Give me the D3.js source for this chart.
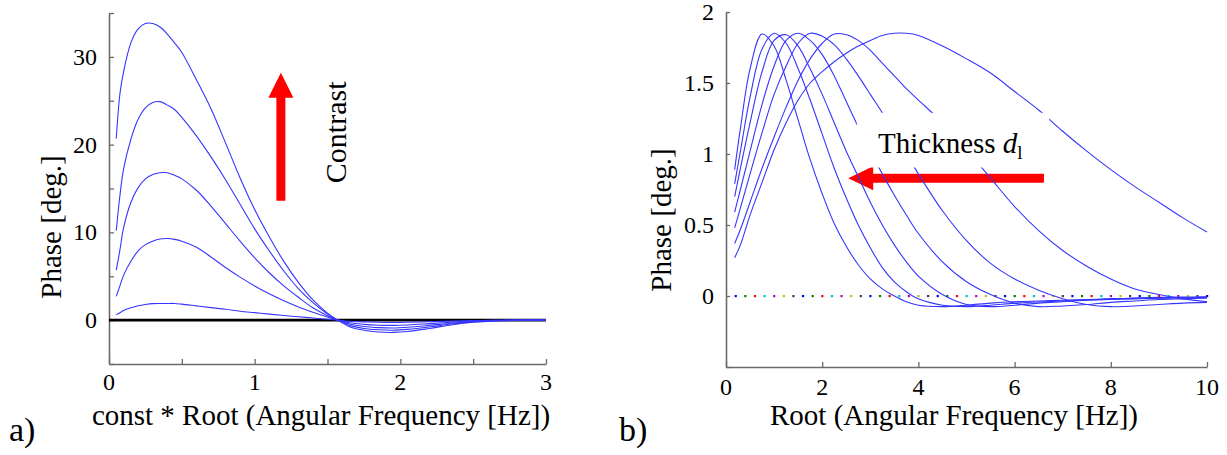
<!DOCTYPE html>
<html>
<head>
<meta charset="utf-8">
<script src="https://d3js.org/d3.v7.min.js"></script>
<style>
  body { margin: 0; background: #fff; }
  text { font-family: "Liberation Serif", "Times New Roman", serif; fill: #000; }
  .tl { font-size: 24px; }
</style>
</head>
<body>
<script>
// ---- panel a) : phase vs const*sqrt(freq), one curve per contrast ----
var contrastX = [0.05, 0.075, 0.1, 0.15, 0.2, 0.25, 0.3, 0.35, 0.4, 0.45, 0.5,
  0.6, 0.7, 0.8, 0.9, 1.0, 1.1, 1.2, 1.3, 1.4, 1.5, 1.57,
  1.65, 1.75, 1.85, 1.95, 2.05, 2.2, 2.35, 2.5, 2.65, 2.8, 3.0];
var contrast1 = [0.6, 0.85, 1.1, 1.4, 1.63, 1.78, 1.88, 1.9, 1.9, 1.9, 1.82,
  1.62, 1.42, 1.24, 1.02, 0.85, 0.68, 0.52, 0.38, 0.24, 0.1, 0,
  -0.12, -0.2, -0.25, -0.27, -0.25, -0.18, -0.1, -0.05, -0.02, 0, 0];
var contrast2 = [2.7, 3.9, 5.1, 6.7, 7.9, 8.6, 9.0, 9.25, 9.3, 9.2, 9.0,
  8.3, 7.2, 6.0, 4.9, 3.9, 3.0, 2.2, 1.5, 0.9, 0.35, 0,
  -0.3, -0.48, -0.58, -0.6, -0.55, -0.4, -0.24, -0.1, -0.03, -0.01, 0];
var contrast3 = [5.7, 8.0, 10.5, 13.4, 15.1, 16.1, 16.6, 16.8, 16.8, 16.5, 16.1,
  14.8, 13.0, 11.0, 9.0, 7.1, 5.4, 3.9, 2.6, 1.4, 0.5, 0,
  -0.45, -0.72, -0.85, -0.9, -0.82, -0.6, -0.35, -0.16, -0.05, -0.01, 0];
var contrast4 = [10.2, 14.2, 17.2, 20.6, 22.9, 24.2, 24.8, 24.9, 24.5, 24.0, 23.1,
  21.0, 18.6, 16.0, 13.2, 10.4, 7.9, 5.6, 3.6, 2.0, 0.7, 0,
  -0.6, -0.95, -1.1, -1.15, -1.05, -0.78, -0.45, -0.2, -0.06, -0.02, 0];
var contrast5 = [20.7, 25.8, 28.3, 31.6, 33.2, 33.8, 33.8, 33.4, 32.6, 31.6, 30.5,
  27.4, 24.1, 20.2, 16.2, 12.6, 9.5, 6.7, 4.3, 2.3, 0.8, 0,
  -0.75, -1.15, -1.35, -1.4, -1.3, -0.95, -0.55, -0.25, -0.08, -0.02, 0];
var contrastSeries = [contrast1, contrast2, contrast3, contrast4, contrast5];
var aXTicks = [0, 0.5, 1, 1.5, 2, 2.5, 3];
var aXLabels = [0, 1, 2, 3];
var aYTicks = [-5, 0, 5, 10, 15, 20, 25, 30, 35];
var aYLabels = [0, 10, 20, 30];

// ---- panel b) : phase vs sqrt(freq), one curve per layer thickness ----
var thickX = [0.18, 0.3, 0.5, 0.75, 1, 1.25, 1.5, 1.75, 2, 2.25, 2.5, 2.75, 3, 3.25, 3.5, 3.75, 4,
  4.5, 5, 5.5, 6, 6.5, 7, 7.5, 8, 8.5, 9, 9.5, 10];
var thickA = [0.89, 1.18, 1.6, 1.845, 1.76, 1.52, 1.24, 0.96, 0.72, 0.51, 0.35, 0.22, 0.12, 0.05, 0.0, -0.04, -0.065,
  -0.075, -0.065, -0.05, -0.04, -0.035, -0.03, -0.025, -0.02, -0.015, -0.01, -0.008, -0.005];
var thickB = [0.79, 1.02, 1.4, 1.74, 1.85, 1.78, 1.6, 1.38, 1.14, 0.9, 0.69, 0.5, 0.34, 0.2, 0.1, 0.03, -0.02,
  -0.065, -0.075, -0.065, -0.05, -0.042, -0.035, -0.028, -0.02, -0.017, -0.015, -0.012, -0.01];
var thickC = [0.70, 0.9, 1.22, 1.58, 1.8, 1.84, 1.76, 1.6, 1.42, 1.22, 1.02, 0.84, 0.66, 0.5, 0.36, 0.24, 0.14,
  0.01, -0.06, -0.075, -0.065, -0.05, -0.04, -0.03, -0.025, -0.02, -0.015, -0.012, -0.01];
var thickD = [0.59, 0.75, 1.02, 1.35, 1.62, 1.8, 1.85, 1.8, 1.7, 1.55, 1.37, 1.19, 1.02, 0.86, 0.71, 0.57, 0.44,
  0.24, 0.1, 0.01, -0.05, -0.075, -0.07, -0.06, -0.045, -0.035, -0.025, -0.02, -0.015];
var thickE = [0.48, 0.62, 0.86, 1.15, 1.42, 1.62, 1.78, 1.85, 1.83, 1.77, 1.67, 1.55, 1.42, 1.29, 1.14, 1.0, 0.86,
  0.6, 0.39, 0.23, 0.12, 0.04, -0.02, -0.06, -0.075, -0.07, -0.06, -0.05, -0.045];
var thickF = [0.37, 0.47, 0.66, 0.9, 1.12, 1.33, 1.52, 1.67, 1.78, 1.845, 1.84, 1.8, 1.73, 1.64, 1.55, 1.46, 1.38,
  1.22, 1.03, 0.83, 0.63, 0.46, 0.32, 0.21, 0.12, 0.05, 0.01, -0.02, -0.04];
var thickG = [0.27, 0.36, 0.57, 0.8, 1.03, 1.22, 1.38, 1.5, 1.58, 1.65, 1.71, 1.76, 1.8, 1.835, 1.85, 1.85, 1.835,
  1.76, 1.67, 1.57, 1.44, 1.31, 1.16, 1.02, 0.89, 0.77, 0.66, 0.55, 0.45];
var thickSeries = [thickA, thickB, thickC, thickD, thickE, thickF, thickG];
var bXTicks = [0, 2, 4, 6, 8, 10];
var bYTicks = [-0.5, 0, 0.5, 1, 1.5, 2];
var bYLabels = [0, 0.5, 1, 1.5, 2];
// the dotted zero line, matlab colour order
var zeroDotColors = ["#0000ff", "#008000", "#ff0000", "#00bfbf", "#bf00bf", "#bfbf00", "#404040"];

var W = 1227, H = 455;
var curveBlue = "#3535ff";
var axisGrey = "#6a6a6a";

var svg = d3.select("body").append("svg")
    .attr("width", W)
    .attr("height", H);
svg.append("rect").attr("width", W).attr("height", H).attr("fill", "#fff");

function styleAxis(g) {
  g.select(".domain").attr("stroke", axisGrey).attr("stroke-width", 1.6);
  g.selectAll(".tick line").attr("stroke", axisGrey).attr("stroke-width", 1.3);
  g.selectAll(".tick text").remove();
}

function arrow(g, x1, y1, x2, y2, shaft, head, headLen) {
  // filled arrow from (x1,y1) to tip (x2,y2)
  var dx = x2 - x1, dy = y2 - y1, L = Math.sqrt(dx * dx + dy * dy);
  var ux = dx / L, uy = dy / L, nx = -uy, ny = ux;
  var bx = x2 - ux * headLen, by = y2 - uy * headLen;
  var pts = [
    [x1 + nx * shaft / 2, y1 + ny * shaft / 2],
    [bx + nx * shaft / 2, by + ny * shaft / 2],
    [bx + nx * head / 2, by + ny * head / 2],
    [x2, y2],
    [bx - nx * head / 2, by - ny * head / 2],
    [bx - nx * shaft / 2, by - ny * shaft / 2],
    [x1 - nx * shaft / 2, y1 - ny * shaft / 2]
  ];
  g.append("path").attr("d", "M" + pts.join("L") + "Z").attr("fill", "#ff0000");
}

// tick labels drawn by hand so they take the serif face
function xLabels(g, x, vals, y) {
  g.selectAll(null).data(vals).enter().append("text")
      .attr("class", "tl")
      .attr("x", function (d) { return x(d); })
      .attr("y", y)
      .attr("text-anchor", "middle")
      .text(function (d) { return d; });
}
function yLabels(g, y, vals, x) {
  g.selectAll(null).data(vals).enter().append("text")
      .attr("class", "tl")
      .attr("x", x)
      .attr("y", function (d) { return y(d); })
      .attr("dy", "0.33em")
      .attr("text-anchor", "end")
      .text(function (d) { return d; });
}

/* ---------- panel a ---------- */
var xa = d3.scaleLinear().domain([0, 3]).range([109, 546]);
var ya = d3.scaleLinear().domain([-5, 35]).range([364, 13]);

var ga = svg.append("g");

ga.append("g")
    .attr("transform", "translate(0," + ya(-5) + ")")
    .call(d3.axisBottom(xa).tickValues(aXTicks).tickSize(-5).tickSizeOuter(0))
    .call(styleAxis);

ga.append("g")
    .attr("transform", "translate(" + xa(0) + ",0)")
    .call(d3.axisLeft(ya).tickValues(aYTicks).tickSize(-5).tickSizeOuter(0))
    .call(styleAxis);

xLabels(ga, xa, aXLabels, 390);
yLabels(ga, ya, aYLabels, 97);

// black zero line
ga.append("line")
    .attr("x1", xa(0)).attr("x2", xa(3))
    .attr("y1", ya(0)).attr("y2", ya(0))
    .attr("stroke", "#000").attr("stroke-width", 2.6);

var lineA = d3.line()
    .x(function (d) { return xa(d[0]); })
    .y(function (d) { return ya(d[1]); })
    .curve(d3.curveCatmullRom.alpha(0.5));

contrastSeries.forEach(function (s) {
  ga.append("path")
      .datum(contrastX.map(function (x, i) { return [x, s[i]]; }))
      .attr("d", lineA)
      .attr("fill", "none")
      .attr("stroke", curveBlue)
      .attr("stroke-width", 1.1);
});

arrow(ga, xa(1.18), ya(13.6), xa(1.18), ya(28.2), 9, 25, 25);

ga.append("text")
    .attr("transform", "translate(" + xa(1.63) + "," + ya(21.4) + ") rotate(-90)")
    .attr("text-anchor", "middle")
    .style("font-size", "30px")
    .text("Contrast");

ga.append("text")
    .attr("x", 321).attr("y", 425)
    .attr("text-anchor", "middle")
    .style("font-size", "29px")
    .text("const * Root (Angular Frequency [Hz])");

ga.append("text")
    .attr("transform", "translate(61,227) rotate(-90)")
    .attr("text-anchor", "middle")
    .style("font-size", "29px")
    .text("Phase [deg.]");

ga.append("text")
    .attr("x", 9).attr("y", 441)
    .style("font-size", "34px")
    .text("a)");

/* ---------- panel b ---------- */
var xb = d3.scaleLinear().domain([0, 10]).range([726, 1207]);
var yb = d3.scaleLinear().domain([-0.5, 2]).range([367, 12]);

var gb = svg.append("g");

gb.append("g")
    .attr("transform", "translate(0," + yb(-0.5) + ")")
    .call(d3.axisBottom(xb).tickValues(bXTicks).tickSize(-5).tickSizeOuter(0))
    .call(styleAxis);

gb.append("g")
    .attr("transform", "translate(" + xb(0) + ",0)")
    .call(d3.axisLeft(yb).tickValues(bYTicks).tickSize(-4).tickSizeOuter(0))
    .call(styleAxis);

xLabels(gb, xb, bXTicks, 395);
yLabels(gb, yb, bYLabels, 714);

// coloured dotted zero line
var dots = d3.range(1, 51).map(function (i) { return i * 0.2; });
gb.selectAll("rect.zdot")
    .data(dots)
    .enter().append("rect")
    .attr("class", "zdot")
    .attr("x", function (d) { return xb(d) - 1; })
    .attr("y", yb(0) - 1)
    .attr("width", 2.2).attr("height", 2.2)
    .attr("fill", function (d, i) { return zeroDotColors[i % zeroDotColors.length]; });

arrow(gb, xb(6.61), yb(0.83), xb(2.54), yb(0.83), 9, 24, 25);

var lineB = d3.line()
    .x(function (d) { return xb(d[0]); })
    .y(function (d) { return yb(d[1]); })
    .curve(d3.curveCatmullRom.alpha(0.5));

thickSeries.forEach(function (s) {
  gb.append("path")
      .datum(thickX.map(function (x, i) { return [x, s[i]]; }))
      .attr("d", lineB)
      .attr("fill", "none")
      .attr("stroke", curveBlue)
      .attr("stroke-width", 1.1);
});

// white label box that hides the curves under the text
gb.append("rect")
    .attr("x", xb(2.72)).attr("y", yb(1.29))
    .attr("width", xb(6.72) - xb(2.72))
    .attr("height", yb(0.905) - yb(1.29))
    .attr("fill", "#fff");

var thick = gb.append("text")
    .attr("x", xb(3.16)).attr("y", yb(1.01))
    .style("font-size", "29px");
thick.append("tspan").text("Thickness ");
thick.append("tspan").style("font-style", "italic").text("d");
thick.append("tspan").attr("dy", 6).style("font-size", "19px").text("l");

gb.append("text")
    .attr("x", 954).attr("y", 425)
    .attr("text-anchor", "middle")
    .style("font-size", "29px")
    .text("Root (Angular Frequency [Hz])");

gb.append("text")
    .attr("transform", "translate(671,220) rotate(-90)")
    .attr("text-anchor", "middle")
    .style("font-size", "29px")
    .text("Phase [deg.]");

gb.append("text")
    .attr("x", 619).attr("y", 441)
    .style("font-size", "34px")
    .text("b)");
</script>
</body>
</html>
